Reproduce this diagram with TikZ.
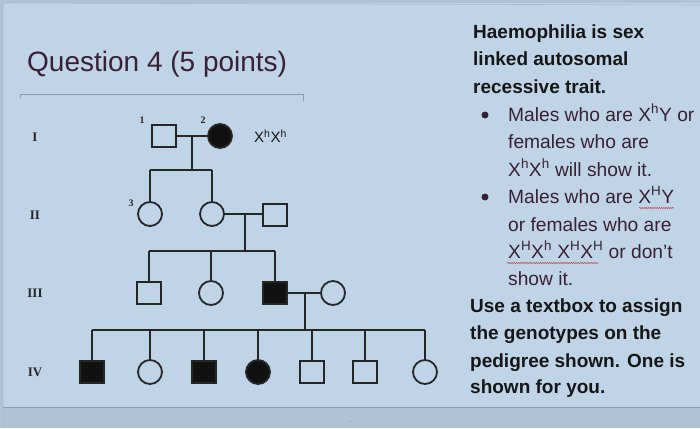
\documentclass[tikz,border=0pt]{standalone}
\usepackage{fontspec}
\setmainfont{Liberation Sans}
\newfontfamily\serifrm{Liberation Serif}
\usetikzlibrary{decorations.pathmorphing}
\definecolor{bgpanel}{HTML}{C0D4E7}
\definecolor{bgband}{HTML}{AFC3D6}
\definecolor{pedline}{HTML}{262626}
\definecolor{pedfill}{HTML}{111111}
\definecolor{maroon}{HTML}{3A2034}
\definecolor{boldtxt}{HTML}{161616}
\definecolor{edgegrey}{HTML}{8C9CAC}
\definecolor{wavy}{HTML}{C2566A}
\tikzset{
  ped/.style={draw=pedline, line width=1.8pt, inner sep=0pt},
  male/.style={ped, rectangle, minimum width=24pt, minimum height=22pt},
  female/.style={ped, circle, minimum size=24pt},
  aff/.style={fill=pedfill},
  link/.style={draw=pedline, line width=1.6pt},
  gen/.style={font=\serifrm\bfseries\fontsize{13}{13}\selectfont, text=pedline},
  num/.style={font=\serifrm\bfseries\fontsize{10}{10}\selectfont, text=pedline},
  btxt/.style={anchor=base west, inner sep=0pt, font=\bfseries\fontsize{19}{20}\selectfont, text=boldtxt},
  rtxt/.style={anchor=base west, inner sep=0pt, font=\fontsize{19.2}{20}\selectfont, text=maroon},
  bul/.style={circle, fill=maroon, minimum size=7pt, inner sep=0pt},
  squig/.style={draw=wavy, line width=0.6pt, decorate, decoration={snake, amplitude=0.7pt, segment length=2.2pt}},
}
\begin{document}
\begin{tikzpicture}[x=1pt,y=-1pt]
\useasboundingbox (0,0) rectangle (700,428);
% background
\fill[bgband] (0,0) rectangle (700,428);
\fill[bgpanel] (3,3) rectangle (700,407);
\draw[edgegrey!70, line width=0.6pt] (3,428) -- (3,3) -- (700,5);
\draw[edgegrey, line width=0.8pt] (3,407) -- (700,407);
\node[text=edgegrey, font=\fontsize{7}{7}\selectfont] (dots) at (350,422) {...};
% title
\node[anchor=base west, inner sep=0pt, font=\fontsize{28}{30}\selectfont, text=maroon] (title) at (27,71) {Question 4 (5 points)};
% pedigree frame line
\draw[edgegrey, line width=0.7pt] (20,98) -- (20,94) -- (303,94) -- (303,101);
% generation labels
\node[gen] (gI) at (35,137) {I};
\node[gen] (gII) at (35,215) {II};
\node[gen] (gIII) at (35,293) {III};
\node[gen] (gIV) at (35,372) {IV};
% generation I
\node[male] (i1) at (164,136) {};
\node[female, aff] (i2) at (220,136) {};
\node[num] (n1) at (142,120) {1};
\node[num] (n2) at (203,120) {2};
\node[anchor=west, inner sep=0pt, font=\fontsize{15}{15}\selectfont, text=boldtxt] (gt) at (254,136) {X\textsuperscript{h}X\textsuperscript{h}};
% generation II
\node[female] (ii3) at (150,214) {};
\node[female] (ii4) at (212,214) {};
\node[male] (ii5) at (275,215) {};
\node[num] (n3) at (131,203) {3};
% generation III
\node[male] (iii1) at (149,293) {};
\node[female] (iii2) at (211,293) {};
\node[male, aff] (iii3) at (275,293) {};
\node[female] (iii4) at (333,293) {};
% generation IV
\node[male, aff] (iv1) at (92,372) {};
\node[female] (iv2) at (150,372) {};
\node[male, aff] (iv3) at (204,372) {};
\node[female, aff] (iv4) at (258,372) {};
\node[male] (iv5) at (312,372) {};
\node[male] (iv6) at (365,372) {};
\node[female] (iv7) at (425,372) {};
% connectors
\coordinate (m1) at (192,136);
\coordinate (s1) at (192,170);
\draw[link] (i1.east) -- (i2.west);
\draw[link] (m1) -- (s1);
\draw[link] (ii3.north |- s1) -- (ii4.north |- s1);
\draw[link] (ii3.north) -- (ii3.north |- s1);
\draw[link] (ii4.north) -- (ii4.north |- s1);

\coordinate (m2) at (245,214);
\coordinate (s2) at (245,251);
\draw[link] (ii4.east) -- (ii5.west |- ii4.east);
\draw[link] (m2) -- (s2);
\draw[link] (iii1.north |- s2) -- (iii3.north |- s2);
\draw[link] (iii1.north) -- (iii1.north |- s2);
\draw[link] (iii2.north) -- (iii2.north |- s2);
\draw[link] (iii3.north) -- (iii3.north |- s2);

\coordinate (m3) at (305,293);
\coordinate (s3) at (305,330);
\draw[link] (iii3.east) -- (iii4.west);
\draw[link] (m3) -- (s3);
\draw[link] (iv1.north |- s3) -- (iv7.north |- s3);
\foreach \c in {iv1,iv2,iv3,iv4,iv5,iv6,iv7}
  \draw[link] (\c.north) -- (\c.north |- s3);
% right text
\node[btxt] (t1) at (473,38) {Haemophilia is sex};
\node[btxt] (t2) at (473,65) {linked autosomal};
\node[btxt] (t3) at (473,93) {recessive trait.};
\node[bul] (b1) at (485,115) {};
\node[rtxt] (t4) at (508,121) {Males who are X\textsuperscript{h}Y or};
\node[rtxt] (t5) at (508,148) {females who are};
\node[rtxt] (t6) at (508,176) {X\textsuperscript{h}X\textsuperscript{h} will show it.};
\node[bul] (b2) at (485,197) {};
\node[rtxt] (t7) at (508,203) {Males who are X\textsuperscript{H}Y};
\node[rtxt] (t8) at (508,231) {or females who are};
\node[rtxt] (t9) at (508,258) {X\textsuperscript{H}X\textsuperscript{h} X\textsuperscript{H}X\textsuperscript{H} or don’t};
\node[rtxt] (t10) at (508,285) {show it.};
\node[btxt] (t11) at (470,312) {Use a textbox to assign};
\node[btxt] (t12) at (470,339) {the genotypes on the};
\node[btxt] (t13) at (470,367) {pedigree shown. One is};
\node[btxt] (t14) at (470,393) {shown for you.};
\draw[squig] (639,208) -- (674,208);
\draw[squig] (507,263) -- (598,263);
\end{tikzpicture}
\end{document}
